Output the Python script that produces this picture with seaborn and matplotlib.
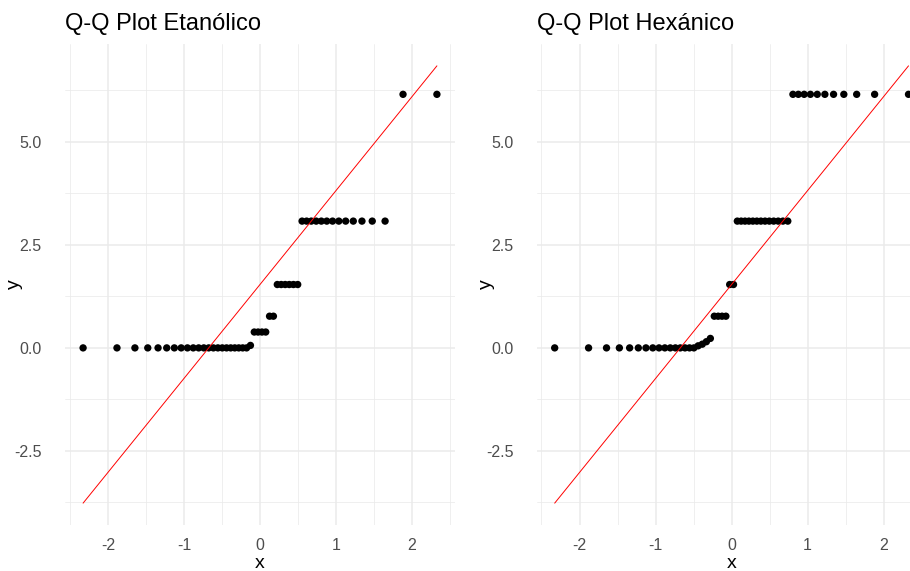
import numpy as np
import pandas as pd
import matplotlib
matplotlib.use("Agg")
import matplotlib.pyplot as plt
import seaborn as sns
from statistics import NormalDist

# ---- data (sorted sample values) ----
titles = ["Q-Q Plot Etanólico", "Q-Q Plot Hexánico"]
etanolico = [0.0] * 22 + [0.06] + [0.385] * 4 + [0.769] * 2 + [1.538] * 6 + [3.077] * 13 + [6.154] * 2
hexanico = [0.0] * 16 + [0.05, 0.09, 0.15, 0.23] + [0.769] * 4 + [1.538] * 2 + [3.077] * 13 + [6.154] * 11
x_ticks = [-2, -1, 0, 1, 2]
x_tick_labels = ["-2", "-1", "0", "1", "2"]
y_ticks = [-2.5, 0.0, 2.5, 5.0]
y_tick_labels = ["-2.5", "0.0", "2.5", "5.0"]

sns.set_theme(style="white")
plt.rcParams["font.family"] = ["Liberation Sans", "DejaVu Sans"]

W, H = 910, 571
fig = plt.figure(figsize=(W / 100, H / 100), dpi=100)
fig.patch.set_facecolor("white")

panel_px = [(65.4, 44, 389.2, 481), (537.0, 44, 389.2, 481)]
nd = NormalDist()


def qq_frame(sample):
    s = np.sort(np.asarray(sample, dtype=float))
    n = len(s)
    p = (np.arange(1, n + 1) - 0.5) / n
    theo = np.array([nd.inv_cdf(v) for v in p])
    return pd.DataFrame({"x": theo, "y": s})


for k, (title, sample) in enumerate(zip(titles, [etanolico, hexanico])):
    l, t, w, h = panel_px[k]
    ax = fig.add_axes([l / W, (H - t - h) / H, w / W, h / H])
    df = qq_frame(sample)

    # qq line through first and third quartiles
    q1, q3 = np.quantile(df["y"], [0.25, 0.75])
    t1, t3 = nd.inv_cdf(0.25), nd.inv_cdf(0.75)
    slope = (q3 - q1) / (t3 - t1)
    inter = q1 - slope * t1
    xr = np.array([df["x"].min(), df["x"].max()])
    line_df = pd.DataFrame({"x": xr, "y": inter + slope * xr})

    sns.scatterplot(data=df, x="x", y="y", ax=ax, color="black", s=28,
                    edgecolor="none", linewidth=0, zorder=3)
    sns.lineplot(data=line_df, x="x", y="y", ax=ax, color="red",
                 linewidth=0.7, zorder=4)

    # ggplot-like expansion (5%)
    xmin, xmax = xr
    ymin = min(df["y"].min(), line_df["y"].min())
    ymax = max(df["y"].max(), line_df["y"].max())
    dx = (xmax - xmin) * 0.05
    dy = (ymax - ymin) * 0.05
    ax.set_xlim(xmin - dx, xmax + dx)
    ax.set_ylim(ymin - dy, ymax + dy)

    ax.set_xticks(x_ticks)
    ax.set_xticklabels(x_tick_labels)
    ax.set_yticks(y_ticks)
    ax.set_yticklabels(y_tick_labels)
    ax.set_xticks([-2.5, -1.5, -0.5, 0.5, 1.5, 2.5], minor=True)
    ax.set_yticks([-3.75, -1.25, 1.25, 3.75, 6.25], minor=True)
    ax.grid(True, which="major", color="#EBEBEB", linewidth=1.1)
    ax.grid(True, which="minor", color="#EBEBEB", linewidth=0.55)
    ax.set_axisbelow(True)
    ax.set_facecolor("white")
    for sp in ax.spines.values():
        sp.set_visible(False)
    ax.tick_params(axis="both", which="both", length=0, labelsize=11.5,
                   labelcolor="#4D4D4D")
    ax.tick_params(axis="y", pad=17)
    ax.tick_params(axis="x", pad=9)
    ax.set_xlabel("x", fontsize=14, color="black", va="center")
    ax.set_ylabel("y", fontsize=14, color="black", va="center")
    ax.xaxis.set_label_coords(0.5, -0.081)
    ax.yaxis.set_label_coords(-0.13, 0.5)
    ax.set_title(title, loc="left", fontsize=17, color="black", pad=10)

fig.savefig("out.png", dpi=100, facecolor="white")
